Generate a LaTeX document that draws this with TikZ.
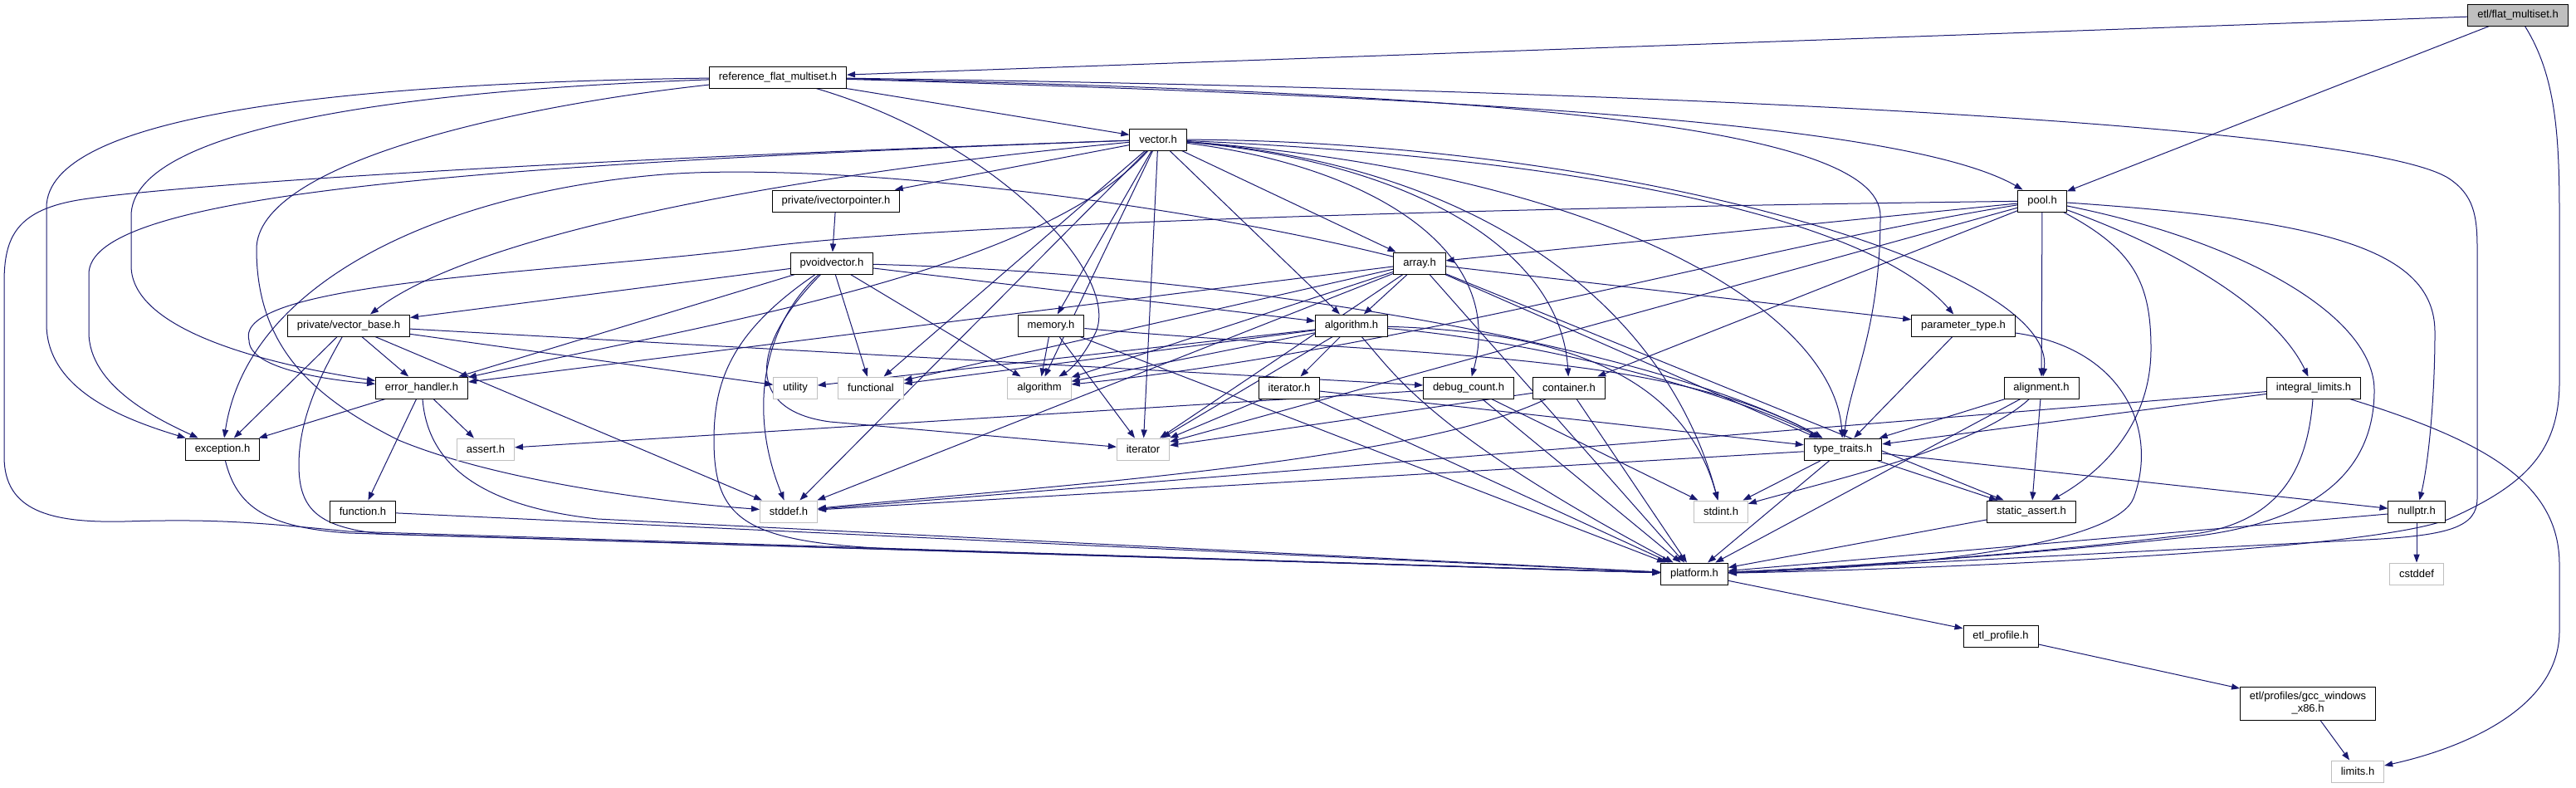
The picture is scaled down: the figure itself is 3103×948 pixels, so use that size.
\documentclass[tikz,border=0pt]{standalone}
\usepackage{fontspec}
\setmainfont{Liberation Sans}
\usepackage{xcolor}
\usetikzlibrary{arrows.meta}

\definecolor{edgeblue}{HTML}{191970}
\definecolor{sysgray}{HTML}{BFBFBF}

\pgfdeclarelayer{bg}
\pgfdeclarelayer{edgelayer}
\pgfsetlayers{bg,edgelayer,main}

\begin{document}
\begin{tikzpicture}[
    x=0.5pt, y=-0.5pt,
    hdr/.style={
        rectangle, draw=black, line width=0.5pt, fill=white,
        inner xsep=5.7pt, inner ysep=0pt, minimum height=13pt,
        font=\fontsize{6.5}{7.5}\selectfont
    },
    sys/.style={hdr, draw=sysgray},
    cur/.style={hdr, fill=sysgray},
    inc/.style={-{Triangle[length=5pt, width=3.6pt]}, color=edgeblue, line width=0.5pt}
]

\useasboundingbox (0,0) rectangle (3103,948);
\begin{pgfonlayer}{bg}
\fill[white] (0,0) rectangle (3103,948);
\end{pgfonlayer}

% headers
\node[cur] (fms) at (3033,18) {etl/flat\_multiset.h};
\node[hdr] (rfms) at (937,93) {reference\_flat\_multiset.h};
\node[hdr] (vec) at (1395,168) {vector.h};
\node[hdr] (ivp) at (1007,242) {private/ivectorpointer.h};
\node[hdr] (pool) at (2460,242) {pool.h};
\node[hdr] (pvv) at (1002,317) {pvoidvector.h};
\node[hdr] (arr) at (1710,317) {array.h};
\node[hdr] (vbase) at (420,392) {private/vector\_base.h};
\node[hdr] (mem) at (1266,392) {memory.h};
\node[hdr] (algh) at (1628,392) {algorithm.h};
\node[hdr] (ptype) at (2365,392) {parameter\_type.h};
\node[hdr] (errh) at (508,467) {error\_handler.h};
\node[sys] (util) at (958,467) {utility};
\node[sys] (func) at (1049,467) {functional};
\node[sys] (algo) at (1252,467) {algorithm};
\node[hdr] (iterh) at (1553,467) {iterator.h};
\node[hdr] (dbg) at (1769,467) {debug\_count.h};
\node[hdr] (cont) at (1890,467) {container.h};
\node[hdr] (alignh) at (2459,467) {alignment.h};
\node[hdr] (ilim) at (2787,467) {integral\_limits.h};
\node[hdr] (exc) at (268,541) {exception.h};
\node[sys] (asrt) at (585,541) {assert.h};
\node[sys] (iter) at (1377,541) {iterator};
\node[hdr] (ttr) at (2220,541) {type\_traits.h};
\node[hdr] (funch) at (437,616) {function.h};
\node[sys] (stddef) at (950,616) {stddef.h};
\node[sys] (stdint) at (2073,616) {stdint.h};
\node[hdr] (sassert) at (2447,616) {static\_assert.h};
\node[hdr] (nullp) at (2911,616) {nullptr.h};
\node[hdr] (plat) at (2041,691) {platform.h};
\node[sys] (cstddef) at (2911,691) {cstddef};
\node[hdr] (prof) at (2410,766) {etl\_profile.h};
\node[hdr, align=center, minimum height=20pt] (gcc) at (2780,847) {etl/profiles/gcc\_windows\\\_x86.h};
\node[sys] (limits) at (2840,929) {limits.h};

\begin{pgfonlayer}{edgelayer}
% etl/flat_multiset.h
\draw[inc] (fms) -- (rfms);
\draw[inc] (fms) -- (pool);
\draw[inc] (fms) .. controls (3078,90) and (3083,160) .. (3083,260) -- (3083,460) .. controls (3083,545) and (3040,585) .. (2950,625) .. controls (2850,665) and (2300,686) .. (plat);

% reference_flat_multiset.h
\draw[inc] (rfms) -- (vec);
\draw[inc] (rfms) .. controls (1800,118) and (2300,150) .. (pool);
\draw[inc] (rfms) .. controls (1800,112) and (2265,150) .. (2265,260) .. controls (2265,400) and (2228,460) .. (ttr);
\draw[inc] (rfms) .. controls (2000,108) and (2850,150) .. (2950,215) .. controls (2980,235) and (2984,260) .. (2984,300) -- (2984,600) .. controls (2984,635) and (2950,645) .. (2850,650) .. controls (2500,668) and (2200,684) .. (plat);
\draw[inc] (rfms) .. controls (400,100) and (56,140) .. (56,250) -- (56,390) .. controls (56,470) and (150,505) .. (exc);
\draw[inc] (rfms) .. controls (450,110) and (158,160) .. (158,260) -- (158,320) .. controls (158,400) and (330,440) .. (errh);
\draw[inc] (rfms) .. controls (600,130) and (309,200) .. (309,300) .. controls (309,420) and (380,480) .. (480,530) .. controls (600,580) and (800,605) .. (stddef);
\draw[inc] (rfms) .. controls (1200,170) and (1350,330) .. (1320,400) .. controls (1305,430) and (1290,445) .. (algo);

% vector.h
\draw[inc] (vec) -- (ivp);
\draw[inc] (vec) .. controls (900,215) and (560,290) .. ([xshift=13pt]vbase.north);
\draw[inc] (vec) -- (mem);
\draw[inc] (vec) -- (algh);
\draw[inc] (vec) -- (arr);
\draw[inc] (vec) .. controls (1900,190) and (2250,260) .. (ptype);
\draw[inc] (vec) .. controls (1650,200) and (1815,300) .. (dbg);
\draw[inc] (vec) .. controls (1700,195) and (1880,300) .. (cont);
\draw[inc] (vec) .. controls (1950,170) and (2480,320) .. (alignh);
\draw[inc] (vec) .. controls (1950,210) and (2210,380) .. (ttr);
\draw[inc] (vec) .. controls (1800,200) and (2010,380) .. (stdint);
\draw[inc] (vec) -- (algo);
\draw[inc] (vec) -- (iter);
\draw[inc] (vec) -- (func);
\draw[inc] (vec) -- (stddef);
\draw[inc] (vec) .. controls (1250,330) and (850,390) .. (errh);
\draw[inc] (vec) .. controls (500,200) and (107,240) .. (107,330) -- (107,400) .. controls (107,465) and (190,505) .. (exc);
\draw[inc] (vec) .. controls (600,195) and (200,225) .. (100,240) .. controls (20,252) and (5,285) .. (5,340) -- (5,550) .. controls (5,615) and (60,630) .. (150,628) .. controls (250,625) and (300,628) .. (420,640) -- (plat);

% private/ivectorpointer.h
\draw[inc] (ivp) -- (pvv);

% pvoidvector.h
\draw[inc] (pvv) -- (vbase);
\draw[inc] (pvv) -- (errh);
\draw[inc] (pvv) -- (algh);
\draw[inc] (pvv) .. controls (1500,330) and (2000,420) .. (ttr);
\draw[inc] (pvv) -- (func);
\draw[inc] (pvv) -- (algo);
\draw[inc] (pvv) .. controls (930,380) and (895,480) .. (stddef);
\draw[inc] (pvv) .. controls (900,420) and (900,495) .. (1000,508) -- (iter);
\draw[inc] (pvv) .. controls (880,400) and (860,460) .. (860,530) .. controls (860,630) and (900,655) .. (1100,662) -- (plat);

% array.h
\draw[inc] (arr) -- (algh);
\draw[inc] (arr) -- (errh);
\draw[inc] (arr) .. controls (1400,240) and (1000,195) .. (800,210) .. controls (550,230) and (300,330) .. (exc);
\draw[inc] (arr) -- (ttr);
\draw[inc] (arr) -- (ptype);
\draw[inc] (arr) -- (sassert);
\draw[inc] (arr) -- (plat);
\draw[inc] (arr) -- (iter);
\draw[inc] (arr) -- (func);
\draw[inc] (arr) -- (algo);
\draw[inc] (arr) -- (stddef);

% algorithm.h
\draw[inc] (algh) -- (algo);
\draw[inc] (algh) -- (iter);
\draw[inc] (algh) -- (util);
\draw[inc] (algh) -- (func);
\draw[inc] (algh) .. controls (1900,400) and (2030,460) .. (stdint);
\draw[inc] (algh) .. controls (1680,450) and (1720,520) .. (plat);
\draw[inc] (algh) .. controls (1850,410) and (2080,470) .. (ttr);
\draw[inc] (algh) -- (iterh);

% memory.h
\draw[inc] (mem) -- (algo);
\draw[inc] (mem) -- (iter);
\draw[inc] (mem) -- (plat);
\draw[inc] (mem) .. controls (1700,430) and (2000,420) .. (ttr);

% iterator.h
\draw[inc] (iterh) -- (iter);
\draw[inc] (iterh) -- (plat);
\draw[inc] (iterh) -- (ttr);

% debug_count.h
\draw[inc] (dbg) -- (stdint);
\draw[inc] (dbg) -- (plat);
\draw[inc] (dbg) -- (asrt);

% container.h
\draw[inc] (cont) -- (iter);
\draw[inc] (cont) .. controls (1700,560) and (1200,590) .. (stddef);
\draw[inc] (cont) -- (plat);

% pool.h
\draw[inc] (pool) -- (arr);
\draw[inc] (pool) .. controls (1800,250) and (1100,270) .. (900,300) .. controls (650,330) and (280,340) .. (300,410) .. controls (300,445) and (400,458) .. (errh);
\draw[inc] (pool) .. controls (2100,300) and (1700,420) .. (algo);
\draw[inc] (pool) -- (cont);
\draw[inc] (pool) -- (iter);
\draw[inc] (pool) -- (alignh);
\draw[inc] (pool) .. controls (2620,300) and (2740,370) .. (ilim);
\draw[inc] (pool) .. controls (2800,265) and (2933,300) .. (2933,400) .. controls (2933,480) and (2925,560) .. (nullp);
\draw[inc] (pool) .. controls (2570,300) and (2591,340) .. (2591,420) .. controls (2591,520) and (2520,575) .. (sassert);
\draw[inc] (pool) .. controls (2700,290) and (2860,380) .. (2860,470) .. controls (2860,560) and (2800,625) .. (2650,645) .. controls (2450,668) and (2200,684) .. (plat);

% type_traits.h
\draw[inc] (ttr) -- (stddef);
\draw[inc] (ttr) -- (stdint);
\draw[inc] (ttr) -- (plat);
\draw[inc] (ttr) -- (nullp);
\draw[inc] (ttr) -- (sassert);

% alignment.h
\draw[inc] (alignh) .. controls (2380,540) and (2200,580) .. (stdint);
\draw[inc] (alignh) -- (plat);
\draw[inc] (alignh) -- (ttr);
\draw[inc] (alignh) -- (sassert);

% integral_limits.h
\draw[inc] (ilim) -- (ttr);
\draw[inc] (ilim) -- (stddef);
\draw[inc] (ilim) .. controls (2780,560) and (2750,625) .. (2650,642) .. controls (2450,668) and (2200,684) .. (plat);
\draw[inc] (ilim) .. controls (2990,530) and (3083,580) .. (3083,680) -- (3083,760) .. controls (3083,860) and (2950,905) .. (limits);

% static_assert.h, nullptr.h
\draw[inc] (sassert) -- (plat);
\draw[inc] (nullp) -- (plat);
\draw[inc] (nullp) -- (cstddef);

% error_handler.h
\draw[inc] (errh) -- (exc);
\draw[inc] (errh) -- (asrt);
\draw[inc] (errh) -- (funch);
\draw[inc] (errh) .. controls (515,560) and (580,610) .. (720,625) -- (plat);

% exception.h, function.h
\draw[inc] (exc) .. controls (285,610) and (320,635) .. (420,642) -- (plat);
\draw[inc] (funch) -- (plat);

% private/vector_base.h
\draw[inc] (vbase) -- (util);
\draw[inc] (vbase) -- (stddef);
\draw[inc] (vbase) .. controls (390,445) and (360,500) .. (360,560) .. controls (360,615) and (385,635) .. (460,643) -- (plat);
\draw[inc] (vbase) -- (exc);
\draw[inc] (vbase) -- (errh);
\draw[inc] (vbase) -- (dbg);

% parameter_type.h
\draw[inc] (ptype) -- (ttr);
\draw[inc] (ptype) .. controls (2560,420) and (2600,520) .. (2570,600) .. controls (2550,650) and (2350,682) .. (plat);

% platform.h
\draw[inc] (plat) -- (prof);
\draw[inc] (prof) -- (gcc);
\draw[inc] (gcc) -- (limits);
\end{pgfonlayer}

\end{tikzpicture}
\end{document}
